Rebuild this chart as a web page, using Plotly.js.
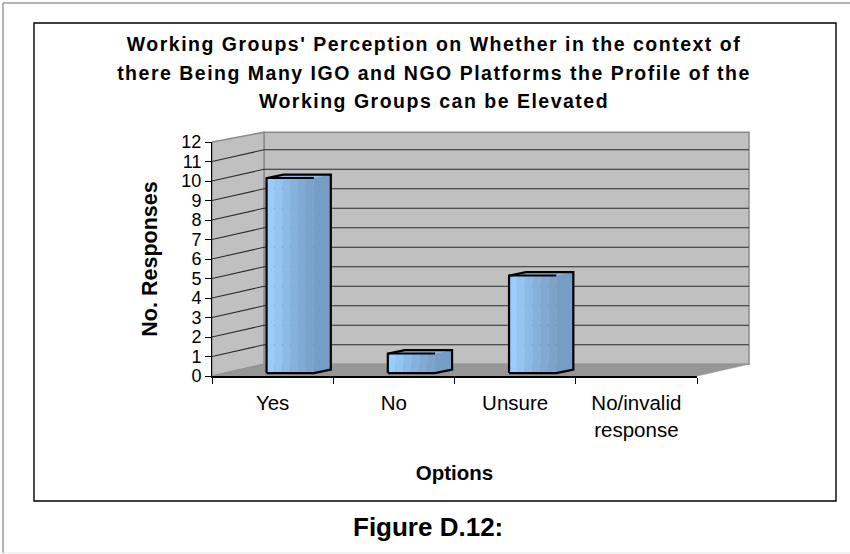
<!DOCTYPE html>
<html>
<head>
<meta charset="utf-8">
<script src="https://cdn.plot.ly/plotly-3.0.1.min.js"></script>
<style>html,body{margin:0;padding:0;background:#fff}
.gtitle{letter-spacing:1.5px}</style>
</head>
<body>
<div id="chart" style="width:850px;height:554px"></div>
<script>
var categories = ['Yes', 'No', 'Unsure', 'No/invalid<br>response'];
var responses = [10, 1, 5, 0];
var yTicks = [0,1,2,3,4,5,6,7,8,9,10,11,12];
var gridLevels = [1,2,3,4,5,6,7,8,9,10,11];
var titleText = "<span style='font-size:19.5px'>Working Groups' Perception on Whether in the context of<br>there Being Many IGO and NGO Platforms the Profile of the<br>Working Groups can be Elevated</span>";
var stripColors = ['#99CCFF','#92C4F4','#8BBAE8','#85B1DE','#80AAD4','#7BA3CC'];

var W = 850, H = 554;
var front = {x0:212, x1:697, y0:376, y1:142};
var unitX = (front.x1-front.x0)/4, unitY = (front.y0-front.y1)/12;
var wide = {x1:752, y1:130};
var rangeX = [-0.5, -0.5+(wide.x1-front.x0)/unitX];
var rangeY = [0, (front.y0-wide.y1)/unitY];
var DX = 52/unitX, DY = 0.6;
var L = -0.5, R = 3.5;

function poly(x, y, color, lineColor, lineW, xa, ya){
  return {type:'scatter', mode:'lines', x:x, y:y, fill:'toself', fillcolor:color,
    line:{color:lineColor, width:lineW}, hoverinfo:'skip', showlegend:false, xaxis:xa, yaxis:ya};
}
var traces = [];
// walls and floor
traces.push(poly([L+DX,R+DX,R+DX,L+DX,L+DX],[DY,DY,12+DY-0.1,12+DY-0.1,DY],'#C0C0C0','#8A8A8A',1.5,'x','y'));
traces.push(poly([L,L+DX,L+DX,L,L],[0,DY,12+DY-0.1,12,0],'#C0C0C0','#8A8A8A',1.5,'x','y'));
traces.push(poly([L,L+DX,R+DX,R,L],[0,DY,DY,0,0],'#969696','#969696',0.5,'x','y'));
// gridlines
var gx=[], gy=[];
gridLevels.forEach(function(k){ gx.push(L,L+DX,R+DX,null); gy.push(k,k+DY,k+DY,null); });
traces.push({type:'scatter',mode:'lines',x:gx,y:gy,line:{color:'#2a2a2a',width:1.1},hoverinfo:'skip',showlegend:false,xaxis:'x',yaxis:'y'});

// bars: front face strips
var faceOff=-0.05, faceW=0.39, baseY=0.15, sideX=0.14, sideY=0.18;
stripColors.forEach(function(c,i){
  var w = faceW/stripColors.length;
  traces.push({type:'bar',x:categories,y:responses,base:baseY,offset:faceOff+i*w,width:w,
    marker:{color:c,line:{width:0}},showlegend:false,xaxis:'x2',yaxis:'y2',hoverinfo:'x+y'});
});
// side, top and outline
var sx=[],sy=[],tx=[],ty=[],ox=[],oy=[],ex=[],ey=[];
responses.forEach(function(v,i){
  if(!v) return;
  var a=i+faceOff, b=a+faceW, t=v+baseY;
  sx.push(b,b+sideX,b+sideX,b,b,null); sy.push(baseY,baseY+sideY,t+sideY,t,baseY,null);
  tx.push(a,a+sideX,b+sideX,b,a,null); ty.push(t,t+sideY,t+sideY,t,t,null);
  ox.push(a,a,a+sideX,b+sideX,b+sideX,b,a,null); oy.push(baseY,t,t+sideY,t+sideY,baseY+sideY,baseY,baseY,null);
  ex.push(a,b,null); ey.push(t,t,null);
});
traces.push(poly(sx,sy,'#769DC6','rgba(0,0,0,0)',0,'x3','y2'));
traces.push(poly(tx,ty,'#8DB8E4','rgba(0,0,0,0)',0,'x3','y2'));
traces.push({type:'scatter',mode:'lines',x:ex,y:ey,line:{color:'#000',width:2},hoverinfo:'skip',showlegend:false,xaxis:'x3',yaxis:'y2'});
traces.push({type:'scatter',mode:'lines',x:ox,y:oy,line:{color:'#000',width:2.2},hoverinfo:'skip',showlegend:false,xaxis:'x3',yaxis:'y2'});

var font='"Liberation Sans", Arial, sans-serif';
var layout = {
  width:W, height:H, margin:{l:0,r:0,t:0,b:0}, paper_bgcolor:'#fff', plot_bgcolor:'rgba(0,0,0,0)',
  showlegend:false, barmode:'overlay', font:{family:font,color:'#000'},
  title:{text:titleText, font:{family:font,size:22,weight:'bold',color:'#000'},x:434/W,xanchor:'center',y:1-51/H,yanchor:'top',yref:'paper'},
  xaxis:{domain:[front.x0/W,wide.x1/W],range:rangeX,visible:false,fixedrange:true,anchor:'y'},
  yaxis:{domain:[1-front.y0/H,1-wide.y1/H],range:rangeY,visible:false,fixedrange:true,anchor:'x'},
  xaxis2:{domain:[front.x0/W,front.x1/W],range:[L,R],type:'category',categoryorder:'array',categoryarray:categories,anchor:'y2',
    tickson:'boundaries',ticks:'outside',ticklen:6,tickcolor:'#000',tickwidth:1,showline:true,linecolor:'#000',linewidth:1.5,showgrid:false,zeroline:false,
    tickfont:{size:20.5,family:font,color:'#000'},ticklabelstandoff:8,fixedrange:true,
    title:{text:'Options',font:{size:20.5,family:font,weight:'bold',color:'#000'},standoff:26}},
  yaxis2:{domain:[1-front.y0/H,1-front.y1/H],range:[0,12],anchor:'x2',tickmode:'array',tickvals:yTicks,ticktext:yTicks.map(String),
    ticks:'outside',ticklen:6,tickcolor:'#000',tickwidth:1,showline:true,linecolor:'#000',linewidth:1,showgrid:false,zeroline:false,
    tickfont:{size:18,family:font,color:'#000'},ticklabelstandoff:0,fixedrange:true,
    title:{text:'No. Responses',font:{size:21.5,family:font,weight:'bold',color:'#000'},standoff:17}},
  xaxis3:{domain:[front.x0/W,front.x1/W],range:[L,R],overlaying:'x2',anchor:'y2',visible:false,fixedrange:true},
  shapes:[
    {type:'rect',xref:'paper',yref:'paper',x0:34/W,x1:836/W,y0:1-501/H,y1:1-23/H,line:{color:'#000',width:1.4},fillcolor:'rgba(0,0,0,0)',layer:'below'},
    {type:'line',xref:'paper',yref:'paper',x0:3/W,x1:1,y0:1-3/H,y1:1-3/H,line:{color:'#9a9a9a',width:1.5}},
    {type:'line',xref:'paper',yref:'paper',x0:3/W,x1:3/W,y0:1-553/H,y1:1-3/H,line:{color:'#9a9a9a',width:1.5}},
    {type:'line',xref:'paper',yref:'paper',x0:3/W,x1:1,y0:1-553/H,y1:1-553/H,line:{color:'#e4e4e4',width:1}}
  ],
  annotations:[
    {xref:'paper',yref:'paper',x:428/W,y:1-527/H,xanchor:'center',yanchor:'middle',showarrow:false,
     text:'<b>Figure D.12:</b>',font:{size:26,family:font,color:'#000'}}
  ]
};
Plotly.newPlot('chart',traces,layout,{displayModeBar:false,responsive:false});
</script>
</body>
</html>
